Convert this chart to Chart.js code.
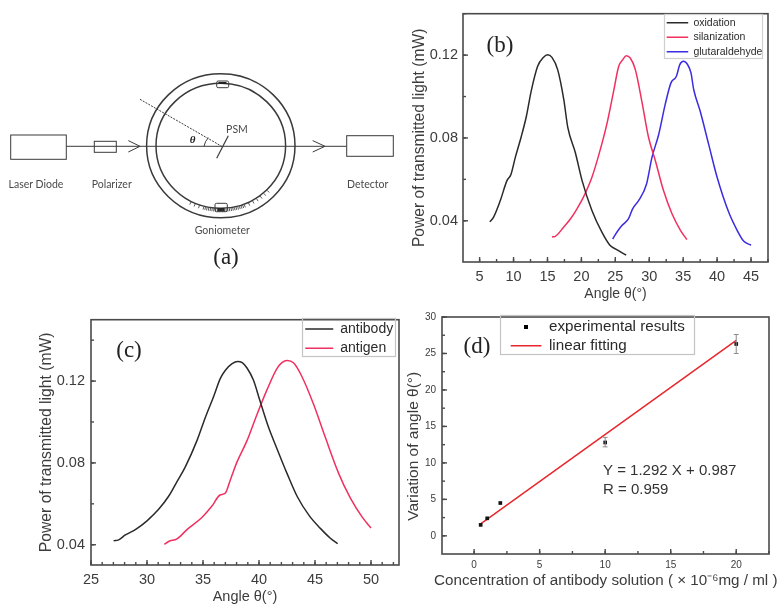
<!DOCTYPE html>
<html>
<head>
<meta charset="utf-8">
<script src="https://cdn.jsdelivr.net/npm/chart.js@4/dist/chart.umd.min.js"></script>
<style>
html,body{margin:0;padding:0;background:#fff;}
body{position:relative;width:784px;height:609px;overflow:hidden;}
canvas,svg{position:absolute;display:block;filter:blur(0.4px);}
svg text{font-family:Lato,"Liberation Sans",sans-serif;font-size:10.5px;fill:#4a4a4a;text-anchor:middle;dominant-baseline:middle;}
</style>
</head>
<body>
<svg id="diagram" width="400" height="285" style="left:0;top:0"></svg>
<canvas id="panelB" width="384" height="305" style="left:400px;top:0"></canvas>
<canvas id="panelC" width="380" height="304" style="left:30px;top:305px"></canvas>
<canvas id="panelD" width="384" height="304" style="left:400px;top:305px"></canvas>
<script>
// ---------- Panel (b) ----------
const oxidationAngle = [6.5,7.06,8.05,9.03,9.6,10.26,11.1,11.9,12.6,13.55,14.43,15,15.66,16.5,17.4,18,19.1,20.1,21.55,23,24.2,25.2,26.6];
const oxidationPower = [.0395,.0418,.0498,.0594,.0622,.0706,.0802,.0906,.1026,.1146,.119,.1202,.1189,.113,.0986,.085,.073,.0594,.045,.0346,.0282,.0261,.0234];
const silanizationAngle = [15.66,16.15,17.4,18.4,19.35,20.3,21.55,22.8,23.8,24.75,25.5,26.1,26.6,27.2,27.95,28.9,29.9,30.9,32.1,33.35,34.6,35.55];
const silanizationPower = [.0322,.0325,.037,.041,.0458,.0514,.061,.0746,.0874,.1026,.1146,.1178,.1197,.1186,.113,.0978,.0802,.069,.0546,.0434,.0354,.0309];
const glutaraldehydeAngle = [24.6,25.25,26,26.95,27.55,28.45,29.6,30.4,31.4,32.35,33.2,34,34.5,35.05,35.65,36.15,36.55,37.5,38.75,40,41.7,42.95,43.9,45];
const glutaraldehydePower = [.0312,.0346,.0378,.041,.0458,.0498,.0578,.0706,.0818,.0962,.1066,.1098,.1154,.117,.1154,.1114,.1034,.093,.077,.061,.0442,.0354,.0302,.0282];
// ---------- Panel (c) ----------
const antibodyAngle = [27.02,27.47,28.07,28.96,30,31.04,31.93,32.68,33.42,34.46,35.2,35.95,36.55,37,37.6,38.1,38.5,38.93,39.5,40.1,40.86,41.55,42.5,43.4,44.5,45.48,46.37,47.02];
const antibodyPower = [.0419,.0424,.0448,.0474,.0517,.0573,.0637,.0709,.0781,.0909,.1021,.1125,.1213,.1253,.1285,.1296,.129,.1264,.1205,.1101,.0973,.0877,.0749,.0637,.0541,.048,.0432,.0405];
const antigenAngle = [31.55,31.93,32.68,33.57,34.9,35.8,36.49,37,37.44,38.04,38.93,39.82,40.71,41.6,42.05,42.5,43.1,43.84,44.88,45.92,47.11,48.15,49.2,50];
const antigenPower = [.0402,.0416,.0429,.0474,.0533,.0589,.0642,.0653,.0717,.0805,.0909,.1037,.1157,.1261,.129,.1301,.1288,.1221,.1085,.0925,.0749,.0629,.0536,.0482];
// ---------- Panel (d) ----------
const concentration = [0.5,1,2,10,20];
const variation = [1.5,2.4,4.5,12.8,26.3];
const errorLow = [null,null,null,12.2,25];
const errorHigh = [null,null,null,13.5,27.6];
const fitX = [0.5,20];
const fitY = [1.63,26.8];

const SANS = '"Liberation Sans", Arial, sans-serif';
const SERIF = '"Liberation Serif", "Times New Roman", serif';
const INK = '#3c3c3c';
const zip = (xs, ys) => xs.map((x, i) => ({x, y: ys[i]}));
const curve = (label, color, xs, ys) => ({
  label, data: zip(xs, ys), showLine: true, borderColor: color, borderWidth: 1.5,
  pointRadius: 0, pointStyle: 'line', pointBorderColor: color, pointBorderWidth: 1.5,
  cubicInterpolationMode: 'monotone'
});

// inward ticks and closed frame
const framePlugin = {
  id: 'frame',
  afterDraw(chart, _a, o) {
    const {ctx, chartArea: c, scales: {x, y}} = chart;
    ctx.save();
    ctx.strokeStyle = '#4a4a4a'; ctx.lineWidth = 1.4;
    const minors = (s, step) => {
      const out = [];
      for (let i = Math.ceil(s.min / step); i * step <= s.max + 1e-9; i++) out.push(i * step);
      return out;
    };
    const drawX = (v, len) => { const p = x.getPixelForValue(v); ctx.beginPath(); ctx.moveTo(p, c.bottom); ctx.lineTo(p, c.bottom - len); ctx.stroke(); };
    const drawY = (v, len) => { const p = y.getPixelForValue(v); ctx.beginPath(); ctx.moveTo(c.left, p); ctx.lineTo(c.left + len, p); ctx.stroke(); };
    minors(x, o.xMinor).forEach(v => drawX(v, o.minorLen));
    minors(y, o.yMinor).forEach(v => drawY(v, o.minorLen));
    x.ticks.forEach(t => drawX(t.value, o.majorLen));
    y.ticks.forEach(t => drawY(t.value, o.majorLen));
    ctx.lineWidth = 1.6;
    ctx.strokeRect(c.left, c.top, c.right - c.left, c.bottom - c.top);
    ctx.restore();
  }
};

// moves the library's legend into the plot and frames it
const legendBoxPlugin = {
  id: 'legendBox',
  afterLayout(chart, _a, o) {
    const l = chart.legend;
    l.left = o.left; l.top = o.top; l.right = chart.width; l.bottom = chart.height;
    l.width = l.right - l.left; l.height = l.bottom - l.top;
  },
  afterDraw(chart, _a, o) {
    const {ctx} = chart;
    ctx.save();
    ctx.strokeStyle = o.color; ctx.lineWidth = 1.2;
    ctx.strokeRect(o.frame[0], o.frame[1], o.frame[2], o.frame[3]);
    ctx.restore();
  }
};

// free text inside a panel: {text, x, y, font, align}
const notesPlugin = {
  id: 'notes',
  afterDraw(chart, _a, o) {
    const {ctx} = chart;
    ctx.save();
    ctx.textBaseline = 'middle';
    (o.items || []).forEach(n => {
      ctx.font = n.font; ctx.fillStyle = n.color || '#222'; ctx.textAlign = n.align || 'center';
      ctx.fillText(n.text, n.x, n.y);
    });
    ctx.restore();
  }
};

// vertical error bars from errorLow / errorHigh
const errorBarPlugin = {
  id: 'errorBars',
  afterDatasetsDraw(chart, _a, o) {
    if (!o.low) return;
    const {ctx, scales: {x, y}} = chart;
    ctx.save();
    ctx.strokeStyle = '#8a8a8a'; ctx.lineWidth = 1;
    o.xs.forEach((v, i) => {
      if (o.low[i] == null) return;
      const px = x.getPixelForValue(v), lo = y.getPixelForValue(o.low[i]), hi = y.getPixelForValue(o.high[i]);
      ctx.beginPath();
      ctx.moveTo(px, lo); ctx.lineTo(px, hi);
      ctx.moveTo(px - 2.4, lo); ctx.lineTo(px + 2.4, lo);
      ctx.moveTo(px - 2.4, hi); ctx.lineTo(px + 2.4, hi);
      ctx.stroke();
    });
    ctx.restore();
  }
};

function panel(id, g) {
  return new Chart(document.getElementById(id), {
    type: 'scatter',
    data: {datasets: g.datasets},
    plugins: [framePlugin, legendBoxPlugin, notesPlugin, errorBarPlugin],
    options: {
      responsive: false, animation: false, devicePixelRatio: 1,
      layout: {padding: {top: g.area.top, right: g.area.right, left: 0, bottom: 0}},
      scales: {
        x: {
          type: 'linear', min: g.x.min, max: g.x.max,
          grid: {display: false, drawTicks: false}, border: {display: false},
          ticks: {stepSize: g.x.step, includeBounds: false, padding: g.x.pad, color: INK,
                  font: {family: SANS, size: g.tickSize}, maxRotation: 0},
          title: {display: g.x.titleOnAxis !== false, text: g.x.title, color: INK, font: {family: SANS, size: g.x.titleSize},
                  padding: {top: 0, bottom: g.x.titlePad}},
          afterFit(s) { s.height = g.area.xH; }
        },
        y: {
          type: 'linear', min: g.y.min, max: g.y.max,
          grid: {display: false, drawTicks: false}, border: {display: false},
          ticks: {stepSize: g.y.step, includeBounds: false, padding: g.y.pad, color: INK,
                  font: {family: SANS, size: g.tickSize},
                  callback: g.y.format || (v => v)},
          title: {display: true, text: g.y.title, color: INK, font: {family: SANS, size: g.y.titleSize},
                  padding: {top: g.y.titlePad, bottom: 0}},
          afterFit(s) { s.width = g.area.yW; }
        }
      },
      plugins: {
        tooltip: {enabled: false},
        legend: {
          position: 'chartArea', align: 'start',
          labels: Object.assign({usePointStyle: true, color: '#2a2a2a',
                   pointStyleWidth: g.legend.line, padding: g.legend.pad,
                   font: {family: SANS, size: g.legend.size}}, g.legend.extra || {})
        },
        legendBox: {left: g.legend.left, top: g.legend.top,
                    frame: g.legend.frame, color: g.legend.color},
        frame: g.frame,
        notes: {items: g.notes},
        errorBars: g.errors || {}
      }
    }
  });
}

const fmt2 = v => v.toFixed(2);
const POWER_TITLE = 'Power of transmitted light (mW)';
const ANGLE_TITLE = 'Angle θ(°)';
// wider than the plot in the reference; the axis title would be squeezed to the plot width
const CONC_TITLE = 'Concentration of antibody solution ( × 10⁻⁶mg / ml )';

panel('panelB', {
  datasets: [
    curve('oxidation', '#2a2a2a', oxidationAngle, oxidationPower),
    curve('silanization', '#f0305f', silanizationAngle, silanizationPower),
    curve('glutaraldehyde', '#3a2ce0', glutaraldehydeAngle, glutaraldehydePower)
  ],
  area: {top: 12, right: 16, xH: 43, yW: 63},
  tickSize: 14.5,
  x: {min: 2.55, max: 47.5, step: 5, pad: 6, title: ANGLE_TITLE, titleSize: 14, titlePad: 2},
  y: {min: 0.0201, max: 0.14, step: 0.04, pad: 5, format: fmt2, title: POWER_TITLE, titleSize: 15.6, titlePad: 10},
  frame: {xMinor: 2.5, yMinor: 0.02, majorLen: 5, minorLen: 3},
  legend: {left: 262.7, top: 13.5, pad: 4, size: 10.5, line: 21.5,
           frame: [264.5, 14.5, 98, 44], color: '#cfcfcf'},
  notes: [{text: '(b)', x: 100, y: 46, font: '23px ' + SERIF}]
});

panel('panelC', {
  datasets: [
    curve('antibody', '#2a2a2a', antibodyAngle, antibodyPower),
    curve('antigen', '#f0305f', antigenAngle, antigenPower)
  ],
  area: {top: 10, right: 11, xH: 44, yW: 61},
  tickSize: 14.5,
  x: {min: 25, max: 52.5, step: 5, pad: 6, title: ANGLE_TITLE, titleSize: 14.5, titlePad: 3},
  y: {min: 0.0301, max: 0.15, step: 0.04, pad: 6, format: fmt2, title: POWER_TITLE, titleSize: 15.7, titlePad: 7},
  frame: {xMinor: 1, yMinor: 0.02, majorLen: 5, minorLen: 3},
  legend: {left: 270, top: 11.75, pad: 5.25, size: 14, line: 28,
           frame: [272.5, 13.5, 93, 38], color: '#c4c4c4'},
  notes: [{text: '(c)', x: 99, y: 46, font: '23px ' + SERIF}]
});

const dotIcon = document.createElement('canvas');
dotIcon.width = 4; dotIcon.height = 4;
dotIcon.getContext('2d').fillRect(0, 0, 4, 4);

panel('panelD', {
  datasets: [
    {label: 'experimental results', data: zip(concentration, variation), showLine: false,
     pointStyle: 'rect', pointRadius: 2.6, pointBackgroundColor: '#111', pointBorderColor: '#111', pointBorderWidth: 0},
    {label: 'linear fitting', data: zip(fitX, fitY), showLine: true, borderColor: '#e8262c', borderWidth: 1.5,
     pointRadius: 0, pointStyle: 'line', pointBorderColor: '#e8262c', pointBorderWidth: 1.5}
  ],
  area: {top: 9, right: 15, xH: 55, yW: 42},
  tickSize: 10,
  x: {min: -2.45, max: 22.5, step: 5, pad: 5, title: CONC_TITLE, titleOnAxis: false, titleSize: 15, titlePad: 19},
  y: {min: -2.49, max: 30, step: 5, pad: 6, title: 'Variation of angle θ(°)     ', titleSize: 15.5, titlePad: 4},
  frame: {xMinor: 2.5, yMinor: 2.5, majorLen: 5, minorLen: 3},
  legend: {left: 106.9, top: 10.3, pad: 3.8, size: 15.2, line: 30.7,
           frame: [100.5, 10.5, 194, 39], color: '#c4c4c4',
           extra: {generateLabels(chart) {
             const items = Chart.defaults.plugins.legend.labels.generateLabels(chart);
             items[0].pointStyle = dotIcon;
             return items;
           }}},
  errors: {xs: concentration, low: errorLow, high: errorHigh},
  notes: [
    {text: '(d)', x: 77, y: 42, font: '23px ' + SERIF},
    {text: 'Y = 1.292 X + 0.987', x: 203, y: 165.5, align: 'left', font: '15px ' + SANS, color: '#333'},
    {text: 'R = 0.959', x: 203, y: 184.5, align: 'left', font: '15px ' + SANS, color: '#333'},
    {text: CONC_TITLE, x: 205.8, y: 275.7, font: '15.2px ' + SANS, color: INK}
  ]
});

// ---------- Panel (a): schematic of the apparatus ----------
const svg = document.getElementById('diagram');
const NS = 'http://www.w3.org/2000/svg';
function add(tag, attrs, text) {
  const e = document.createElementNS(NS, tag);
  for (const k in attrs) e.setAttribute(k, attrs[k]);
  if (text) e.textContent = text;
  svg.appendChild(e);
  return e;
}
const stroke = {fill: 'none', stroke: '#3a3a3a', 'stroke-width': 1};
add('rect', {x: 10.7, y: 135, width: 55.6, height: 24.3, ...stroke});
add('rect', {x: 346.7, y: 135.7, width: 46.6, height: 20.6, ...stroke});
add('rect', {x: 94.3, y: 141.3, width: 22, height: 11, ...stroke});
add('line', {x1: 66.3, y1: 146.3, x2: 346.7, y2: 146.3, ...stroke});
add('polyline', {points: '128.3,140.6 140,146.3 128.3,152', ...stroke});
add('polyline', {points: '312.7,140.6 325,146.3 312.7,152', ...stroke});
add('ellipse', {cx: 220.8, cy: 145.8, rx: 74.2, ry: 72, ...stroke, 'stroke-width': 1.5});
add('ellipse', {cx: 220.8, cy: 145.8, rx: 64.8, ry: 62.5, ...stroke, 'stroke-width': 1.5});
add('line', {x1: 216.7, y1: 158.3, x2: 228.3, y2: 135.7, ...stroke, 'stroke-width': 1.2});
add('line', {x1: 140, y1: 99.3, x2: 221.7, y2: 146.3, ...stroke, 'stroke-dasharray': '2 1.2'});
add('path', {d: 'M204 146.3 A17 17 0 0 1 208.3 137.7', ...stroke});
add('rect', {x: 216.7, y: 81, width: 12, height: 6.7, rx: 1.5, ...stroke});
add('rect', {x: 218.5, y: 82, width: 8, height: 2, fill: '#222'});
add('rect', {x: 215, y: 203.3, width: 12.3, height: 8.4, rx: 1.5, ...stroke});
add('rect', {x: 217.5, y: 208, width: 7, height: 3, fill: '#222'});
const scaleAngles = [-27,-23,-19,-15,-13.5,-12,-10.5,-9,-7.5,-6,-4.5,-3,-1.5,0,1.5,3,4.5,6,7.5,9,10.5,12,13.5,15,16.5,18,19.5,21,25,29,33,37,41,45];
scaleAngles.forEach(a => {
  const r = a * Math.PI / 180, s = Math.sin(r), c = Math.cos(r);
  add('line', {x1: 220.8 + 65.5 * s, y1: 145.8 + 63 * c, x2: 220.8 + 68.5 * s, y2: 145.8 + 66 * c,
               stroke: '#333', 'stroke-width': 0.8});
});
add('text', {x: 36, y: 185}, 'Laser Diode');
add('text', {x: 111.7, y: 185}, 'Polarizer');
add('text', {x: 367.7, y: 185}, 'Detector');
add('text', {x: 222.3, y: 231.3}, 'Goniometer');
add('text', {x: 237, y: 130.5}, 'PSM');
add('text', {x: 192.7, y: 140, style: 'font:italic bold 11px "Liberation Serif",serif;fill:#222'}, 'θ');
add('text', {x: 226, y: 259, style: 'font:23px "Liberation Serif",serif;fill:#222'}, '(a)');
</script>
</body>
</html>
